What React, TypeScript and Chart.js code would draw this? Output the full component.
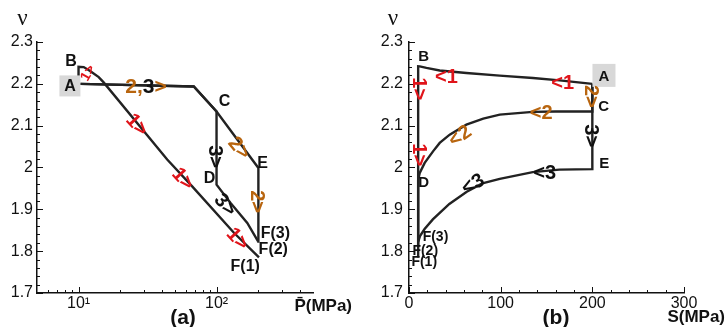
import { useEffect, useRef } from "react";
import { Chart, registerables } from "chart.js";

Chart.register(...registerables);

const SANS = "'Liberation Sans', Arial, sans-serif";
const SERIF = "'Liberation Serif', 'Times New Roman', serif";
const INK = "#111111";
const PATH_INK = "#222222";
const RED = "#e0141a";
const AMBER = "#b8650f";
const BOX = "#d8d8d8";

// ---- panel (a): ν against mean pressure p̄ (MPa), log axis ----
const pBarPath1 = [10, 10, 10.9, 12.2, 14, 15.2, 43.9, 66.6, 133.6, 203];
const nuPath1A = [2.2, 2.241, 2.24, 2.23, 2.216, 2.2035, 2.019, 1.955, 1.844, 1.785];
const pBarPath2 = [10.3, 68.4, 100, 201, 201];
const nuPath2A = [2.2, 2.1936, 2.134, 1.999, 1.82];
const pBarPath3 = [10.3, 68.4, 100, 100, 126.4, 167, 200];
const nuPath3A = [2.2, 2.1936, 2.134, 1.959, 1.915, 1.8675, 1.8235];

// ---- panel (b): ν against deviatoric stress S (MPa) ----
const sPath1 = [200, 164.3, 135.2, 98.9, 62.6, 33.5, 19, 11.7, 10, 10];
const nuPath1B = [2.2, 2.2082, 2.214, 2.2195, 2.226, 2.232, 2.238, 2.2417, 2.242, 1.785];
const sPath2 = [200, 200, 160, 135, 99, 81, 62.6, 44.4, 33.5, 26.2, 17.1, 11.7, 10, 10];
const nuPath2B = [2.2, 2.134, 2.134, 2.133, 2.1263, 2.1167, 2.1024, 2.0785, 2.0587, 2.0386, 2.011, 1.987, 1.971, 1.81];
const sPath3 = [200, 200, 164, 135, 99, 80, 63, 44, 26, 17, 12, 10];
const nuPath3B = [2.2, 1.996, 1.995, 1.989, 1.973, 1.962, 1.942, 1.913, 1.876, 1.853, 1.836, 1.822];

// ---- axes ----
const nuMin = 1.7;
const nuMax = 2.3;
const nuTicks = [1.7, 1.8, 1.9, 2, 2.1, 2.2, 2.3];
const nuMinorStep = 0.02;
const pBarMin = 5;
const pBarMax = 500;
const pBarTicks = [10, 100];
const pBarTickLabels = ["10\u00B9", "10\u00B2"];
const pBarMinor = [6, 7, 8, 9, 20, 30, 40, 50, 60, 70, 80, 90, 200, 300, 400];
const sMin = 0;
const sMax = 300;
const sTicks = [0, 100, 200, 300];
const sMinorStep = 20;

type Part = [string, string];
type Note = {
  x: number;
  y: number;
  parts: Part[];
  font: string;
  rot?: number;
  align?: "left" | "center";
  box?: number;
};
type Caption = { px: number; py: number; text: string; font: string; align?: CanvasTextAlign };

const pts = (xs: number[], ys: number[]) => xs.map((x, i) => ({ x, y: ys[i] }));

const stepsBetween = (lo: number, hi: number, step: number, skip: number[]) => {
  const out: number[] = [];
  const n = Math.round((hi - lo) / step);
  for (let i = 1; i < n; i++) {
    const v = lo + i * step;
    if (!skip.some((s) => Math.abs(s - v) < step / 4)) out.push(v);
  }
  return out;
};

const label = (t: string, c = INK): Part[] => [[t, c]];
const PT16 = `bold 16px ${SANS}`;
const PT15 = `bold 15px ${SANS}`;
const PT14 = `bold 14px ${SANS}`;
const ARW = `bold 20px ${SANS}`;

const notesA: Note[] = [
  { x: 8.66, y: 2.195, parts: label("A"), font: PT16, box: 21 },
  { x: 8.82, y: 2.2553, parts: label("B"), font: PT16 },
  { x: 114.3, y: 2.1597, parts: label("C"), font: PT16 },
  { x: 88.9, y: 1.9757, parts: label("D"), font: PT16 },
  { x: 215.6, y: 2.0116, parts: label("E"), font: PT16 },
  { x: 208.7, y: 1.8443, parts: label("F(3)"), font: PT16, align: "left" },
  { x: 201.8, y: 1.8061, parts: label("F(2)"), font: PT16, align: "left" },
  { x: 126.4, y: 1.7655, parts: label("F(1)"), font: PT16, align: "left" },
  { x: 11.57, y: 2.2266, parts: label("1>", RED), font: `bold 14px ${SANS}`, rot: -60 },
  { x: 26.7, y: 2.1024, parts: label("1>", RED), font: ARW, rot: 48 },
  { x: 57.5, y: 1.9734, parts: label("1>", RED), font: ARW, rot: 48 },
  { x: 143.2, y: 1.83, parts: label("1>", RED), font: ARW, rot: 48 },
  { x: 21.8, y: 2.1932, parts: [["2,", AMBER], ["3", INK], [">", AMBER]], font: `bold 21px ${SANS}`, align: "left" },
  { x: 98.3, y: 2.026, parts: label("3>"), font: ARW, rot: 90 },
  { x: 146.9, y: 2.0474, parts: label("2>", AMBER), font: ARW, rot: 50 },
  { x: 198.6, y: 1.9184, parts: label("2>", AMBER), font: ARW, rot: 90 },
  { x: 116.3, y: 1.9112, parts: label("3>"), font: ARW, rot: 50 },
];

const notesB: Note[] = [
  { x: 212.7, y: 2.2202, parts: label("A"), font: PT15, box: 23 },
  { x: 16, y: 2.2673, parts: label("B"), font: PT15 },
  { x: 212.3, y: 2.1478, parts: label("C"), font: PT15 },
  { x: 16, y: 1.9662, parts: label("D"), font: PT15 },
  { x: 212.9, y: 2.0116, parts: label("E"), font: PT15 },
  { x: 14.9, y: 1.8348, parts: label("F(3)"), font: PT14, align: "left" },
  { x: 3.7, y: 1.8013, parts: label("F(2)"), font: PT14, align: "left" },
  { x: 2.6, y: 1.7757, parts: label("F(1)"), font: PT14, align: "left" },
  { x: 40.8, y: 2.2178, parts: label("<1", RED), font: ARW },
  { x: 167.6, y: 2.2039, parts: label("<1", RED), font: ARW },
  { x: 199.2, y: 2.17, parts: label("2>", AMBER), font: ARW, rot: 90 },
  { x: 199.2, y: 2.0761, parts: label("3>"), font: ARW, rot: 90 },
  { x: 144.2, y: 2.1323, parts: label("<2", AMBER), font: ARW },
  { x: 55.3, y: 2.0761, parts: label("<2", AMBER), font: ARW, rot: -35 },
  { x: 148, y: 1.9889, parts: label("<3"), font: ARW },
  { x: 69.5, y: 1.9614, parts: label("<3"), font: ARW, rot: -30 },
  { x: 11.1, y: 2.1884, parts: label("1>", RED), font: ARW, rot: 90 },
  { x: 11.1, y: 2.0307, parts: label("1>", RED), font: ARW, rot: 90 },
];

const captionsA: Caption[] = [
  { px: 22.5, py: 19, text: "\u03BD", font: `23px ${SERIF}` },
  { px: 183, py: 318, text: "(a)", font: `bold 21px ${SANS}` },
  { px: 352, py: 306, text: "P\u0304(MPa)", font: `bold 17px ${SANS}`, align: "right" },
];
const captionsB: Caption[] = [
  { px: 33, py: 18.5, text: "\u03BD", font: `23px ${SERIF}` },
  { px: 196, py: 318, text: "(b)", font: `bold 21px ${SANS}` },
  { px: 365, py: 317, text: "S(MPa)", font: `bold 17px ${SANS}`, align: "right" },
];

// short tick marks pointing into the plot area
const inwardTicks = {
  id: "inwardTicks",
  afterDatasetsDraw(chart: any, _a: any, o: any) {
    const { ctx, chartArea: ar, scales } = chart;
    const x = scales.x;
    const y = scales.y;
    ctx.save();
    ctx.strokeStyle = INK;
    ctx.lineWidth = 1;
    ctx.beginPath();
    const vx = (v: number, len: number) => {
      const p = Math.round(x.getPixelForValue(v)) + 0.5;
      ctx.moveTo(p, ar.bottom);
      ctx.lineTo(p, ar.bottom - len);
    };
    const vy = (v: number, len: number) => {
      const p = Math.round(y.getPixelForValue(v)) + 0.5;
      ctx.moveTo(ar.left, p);
      ctx.lineTo(ar.left + len, p);
    };
    o.xMajor.forEach((v: number) => vx(v, 6));
    o.xMinor.forEach((v: number) => vx(v, 3));
    o.yMajor.forEach((v: number) => vy(v, 6));
    o.yMinor.forEach((v: number) => vy(v, 3));
    ctx.stroke();
    ctx.restore();
  },
};

// point names, direction arrows and panel captions
const notes = {
  id: "notes",
  afterDatasetsDraw(chart: any, _a: any, o: any) {
    const { ctx, scales } = chart;
    const x = scales.x;
    const y = scales.y;
    for (const n of o.items as Note[]) {
      const px = x.getPixelForValue(n.x);
      const py = y.getPixelForValue(n.y);
      ctx.save();
      ctx.translate(px, py);
      ctx.rotate(((n.rot || 0) * Math.PI) / 180);
      ctx.font = n.font;
      ctx.textBaseline = "middle";
      ctx.textAlign = "left";
      if (n.box) {
        ctx.fillStyle = BOX;
        ctx.fillRect(-n.box / 2, -n.box / 2, n.box, n.box);
      }
      const total = n.parts.reduce((w, [t]) => w + ctx.measureText(t).width, 0);
      let cx = n.align === "left" ? 0 : -total / 2;
      for (const [t, c] of n.parts) {
        ctx.fillStyle = c;
        ctx.fillText(t, cx, 1);
        cx += ctx.measureText(t).width;
      }
      ctx.restore();
    }
    for (const c of o.captions as Caption[]) {
      ctx.save();
      ctx.font = c.font;
      ctx.fillStyle = INK;
      ctx.textBaseline = "middle";
      ctx.textAlign = c.align || "center";
      ctx.fillText(c.text, c.px, c.py);
      ctx.restore();
    }
  },
};

const pathDataset = (data: { x: number; y: number }[]) => ({
  data,
  showLine: true,
  borderColor: PATH_INK,
  borderWidth: 2.4,
  pointRadius: 0,
  tension: 0,
  fill: false,
});

const nuAxis = (width: number, pad: number) => ({
  type: "linear",
  min: nuMin,
  max: nuMax,
  afterFit: (s: any) => {
    s.width = width;
  },
  afterBuildTicks: (s: any) => {
    s.ticks = nuTicks.map((value) => ({ value }));
  },
  ticks: {
    font: { family: SANS, size: 16 },
    color: INK,
    padding: pad,
    callback: (v: number) => String(Math.round(v * 10) / 10),
  },
  grid: { display: true, drawOnChartArea: false, drawTicks: false },
  border: { display: true, color: INK, width: 1.5 },
});

function makeChart(canvas: HTMLCanvasElement, panel: "a" | "b") {
  const isA = panel === "a";
  const datasets = isA
    ? [pathDataset(pts(pBarPath1, nuPath1A)), pathDataset(pts(pBarPath2, nuPath2A)), pathDataset(pts(pBarPath3, nuPath3A))]
    : [pathDataset(pts(sPath1, nuPath1B)), pathDataset(pts(sPath2, nuPath2B)), pathDataset(pts(sPath3, nuPath3B))];

  const xAxis = isA
    ? {
        type: "logarithmic",
        min: pBarMin,
        max: pBarMax,
        afterFit: (s: any) => {
          s.height = 34;
        },
        afterBuildTicks: (s: any) => {
          s.ticks = pBarTicks.map((value) => ({ value }));
        },
        ticks: {
          font: { family: SANS, size: 16 },
          color: INK,
          padding: 1,
          autoSkip: false,
          maxRotation: 0,
          callback: (v: number) => pBarTickLabels[pBarTicks.indexOf(v)] ?? "",
        },
        grid: { display: true, drawOnChartArea: false, drawTicks: false },
        border: { display: true, color: INK, width: 1.5 },
      }
    : {
        type: "linear",
        min: sMin,
        max: sMax,
        afterFit: (s: any) => {
          s.height = 34;
        },
        afterBuildTicks: (s: any) => {
          s.ticks = sTicks.map((value) => ({ value }));
        },
        ticks: {
          font: { family: SANS, size: 16 },
          color: INK,
          padding: 1,
          autoSkip: false,
          maxRotation: 0,
          callback: (v: number) => String(v),
        },
        grid: { display: true, drawOnChartArea: false, drawTicks: false },
        border: { display: true, color: INK, width: 1.5 },
      };

  return new Chart(canvas, {
    type: "scatter",
    data: { datasets: datasets as any },
    options: {
      animation: false,
      responsive: false,
      devicePixelRatio: 1,
      events: [],
      layout: { padding: isA ? { top: 42, right: 47, left: 0, bottom: 0 } : { top: 42, right: 43, left: 0, bottom: 0 } },
      plugins: {
        legend: { display: false },
        tooltip: { enabled: false },
        inwardTicks: {
          xMajor: isA ? pBarTicks : sTicks,
          xMinor: isA ? pBarMinor : stepsBetween(sMin, sMax, sMinorStep, sTicks),
          yMajor: nuTicks,
          yMinor: stepsBetween(nuMin, nuMax, nuMinorStep, nuTicks),
        },
        notes: { items: isA ? notesA : notesB, captions: isA ? captionsA : captionsB },
      } as any,
      scales: {
        x: xAxis as any,
        y: nuAxis(isA ? 37 : 49, isA ? 4 : 6) as any,
      },
    },
    plugins: [inwardTicks, notes],
  });
}

function Panel({ panel, left, width }: { panel: "a" | "b"; left: number; width: number }) {
  const ref = useRef<HTMLCanvasElement | null>(null);
  useEffect(() => {
    if (!ref.current) return;
    const chart = makeChart(ref.current, panel);
    return () => chart.destroy();
  }, [panel]);
  return (
    <canvas
      ref={ref}
      width={width}
      height={327}
      style={{ position: "absolute", left, top: 0, width, height: 327 }}
    />
  );
}

export default function App() {
  return (
    <div style={{ position: "fixed", left: 0, top: 0, width: 727, height: 327, background: "#fff" }}>
      <Panel panel="a" left={0} width={360} />
      <Panel panel="b" left={360} width={367} />
    </div>
  );
}
